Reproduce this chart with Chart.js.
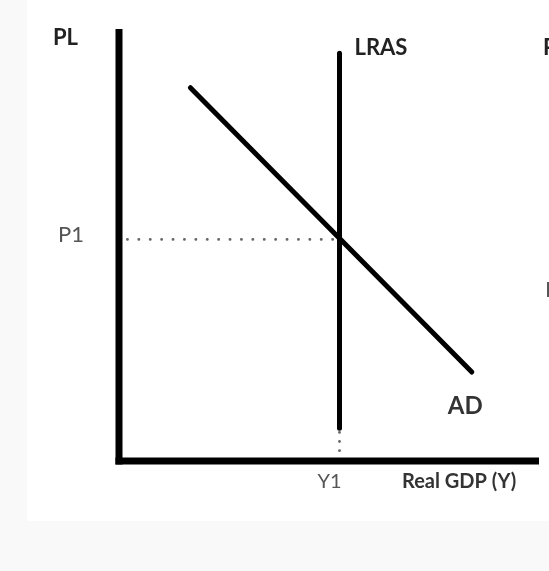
<!DOCTYPE html>
<html>
<head>
<meta charset="utf-8">
<script src="https://cdn.jsdelivr.net/npm/chart.js@4.4.1/dist/chart.umd.min.js"></script>
<style>
  html, body { margin: 0; padding: 0; background: #f9f9f9; }
  #panel { position: absolute; left: 27px; top: 0; width: 522px; height: 521px; background: #fff; }
  #adChart { position: absolute; left: 0; top: 0; }
</style>
</head>
<body>
<div id="panel"></div>
<canvas id="adChart" width="549" height="571"></canvas>
<script>
// valores do gráfico (unidades arbitrárias 0..100)
const Y1 = 52.5;            // produto potencial
const P1 = 51.3;            // nível de preços de equilíbrio
const lrasY = [7.6, 94.4];  // extensão da curva LRAS
const adX = [17, 84];
const adY = [86.4, 20.6];
const p1GuideX = [2, Y1];
const y1GuideY = [2.4, 7.2];

const fonte = 'Lato, "Liberation Sans", sans-serif';

// rótulos desenhados sobre o gráfico
const rotulos = {
    id: 'rotulos',
    afterDatasetsDraw(chart) {
        const ctx = chart.ctx;
        const x = chart.scales.x, y = chart.scales.y;
        const area = chart.chartArea;
        ctx.save();
        ctx.textBaseline = 'middle';
        ctx.textAlign = 'left';

        function texto(t, px, py, font, cor) {
            ctx.font = font;
            ctx.fillStyle = cor;
            ctx.fillText(t, px, py);
        }

        texto('PL', area.left - 66, area.top + 9, 'bold 22px ' + fonte, '#222');
        texto('LRAS', x.getPixelForValue(Y1) + 15, y.getPixelForValue(lrasY[1]) - 5, 'bold 22px ' + fonte, '#222');
        texto('P1', area.left - 61, y.getPixelForValue(P1) - 4, '22px ' + fonte, '#555');
        texto('AD', x.getPixelForValue(adX[1]) - 24, y.getPixelForValue(adY[1]) + 34, 'bold 24px ' + fonte, '#333');
        texto('Y1', x.getPixelForValue(Y1) - 22, area.bottom + 21, '20px ' + fonte, '#555');
        texto('Real GDP (Y)', area.left + 283, area.bottom + 21, 'bold 20px ' + fonte, '#333');
        // pedaços do painel vizinho, cortados pela borda
        texto('P', area.right + 4, area.top + 19, 'bold 22px ' + fonte, '#222');
        texto('P', area.right + 6, area.top + 261, '22px ' + fonte, '#555');
        ctx.restore();
    }
};

const ctx = document.getElementById('adChart').getContext('2d');
new Chart(ctx, {
    type: 'line',
    data: {
        datasets: [
            {   // eixo vertical
                data: [{x: 0, y: -0.8}, {x: 0, y: 100}],
                borderColor: '#000', borderWidth: 7, borderCapStyle: 'butt', clip: false
            },
            {   // eixo horizontal
                data: [{x: -0.85, y: 0}, {x: 100, y: 0}],
                borderColor: '#000', borderWidth: 7, borderCapStyle: 'butt', clip: false
            },
            {   // P1 pontilhado
                data: p1GuideX.map(v => ({x: v, y: P1})),
                borderColor: '#666', borderWidth: 2.8, borderCapStyle: 'round',
                borderDash: [0.1, 11.3], clip: false
            },
            {   // Y1 pontilhado
                data: y1GuideY.map(v => ({x: Y1, y: v})),
                borderColor: '#666', borderWidth: 2.8, borderCapStyle: 'round',
                borderDash: [0.1, 9], clip: false
            },
            {   // LRAS
                label: 'LRAS',
                data: lrasY.map(v => ({x: Y1, y: v})),
                borderColor: '#000', borderWidth: 5, borderCapStyle: 'round', clip: false
            },
            {   // AD
                label: 'AD',
                data: adX.map((v, i) => ({x: v, y: adY[i]})),
                borderColor: '#000', borderWidth: 5, borderCapStyle: 'round', clip: false
            }
        ]
    },
    options: {
        responsive: false,
        animation: false,
        layout: { padding: { left: 119, right: 10, top: 29, bottom: 110 } },
        elements: { point: { radius: 0 }, line: { tension: 0 } },
        plugins: { legend: { display: false }, tooltip: { enabled: false } },
        scales: {
            x: { type: 'linear', min: 0, max: 100, display: false },
            y: { type: 'linear', min: 0, max: 100, display: false }
        }
    },
    plugins: [rotulos]
});
</script>
</body>
</html>
